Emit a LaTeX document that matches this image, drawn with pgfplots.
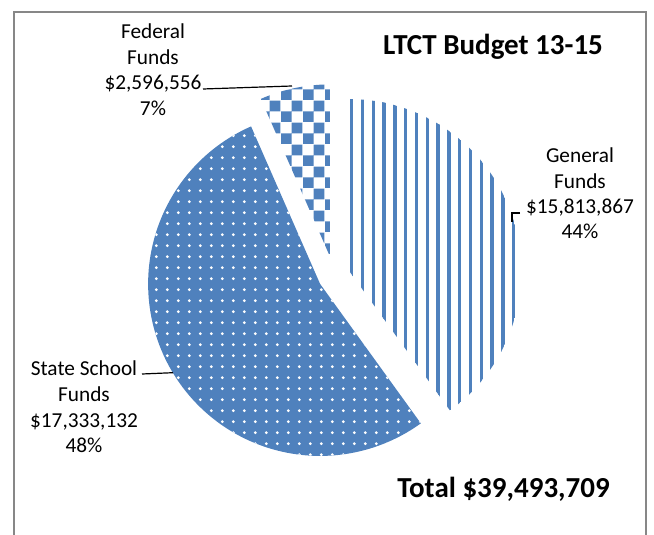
\documentclass[border=0pt]{standalone}
\usepackage{fontspec}
\setmainfont{Carlito}
\usepackage{pgfplots}
\pgfplotsset{compat=1.18}
\usetikzlibrary{patterns}
\definecolor{xlblue}{HTML}{4F81BD}
\definecolor{framegray}{HTML}{878787}

% fill patterns (1 unit = 1 px of the reference)
\pgfdeclarepatternformonly{vstripes}{\pgfqpoint{0bp}{-0.5bp}}{\pgfqpoint{10.8bp}{11.3bp}}{\pgfqpoint{10.8bp}{10.8bp}}{%
  \pgfpathrectangle{\pgfqpoint{4.4bp}{-0.5bp}}{\pgfqpoint{3.3bp}{11.8bp}}\pgfusepath{fill}}
\pgfdeclarepatternformonly{wdots}{\pgfqpoint{0bp}{0bp}}{\pgfqpoint{10.8bp}{10.8bp}}{\pgfqpoint{10.8bp}{10.8bp}}{%
  \pgfpathcircle{\pgfqpoint{5.4bp}{5.4bp}}{1.55bp}\pgfusepath{fill}}
\pgfdeclarepatternformonly{bigchecker}{\pgfqpoint{0bp}{0bp}}{\pgfqpoint{21.6bp}{21.6bp}}{\pgfqpoint{21.6bp}{21.6bp}}{%
  \pgfpathrectangle{\pgfqpoint{0bp}{0bp}}{\pgfqpoint{10.8bp}{10.8bp}}%
  \pgfpathrectangle{\pgfqpoint{10.8bp}{10.8bp}}{\pgfqpoint{10.8bp}{10.8bp}}\pgfusepath{fill}}

\newcommand\lblfont{\fontsize{21.3bp}{25.5bp}\selectfont}
\newcommand\bigfont{\fontsize{29bp}{35bp}\selectfont\bfseries}

\begin{document}
\begin{tikzpicture}
% slice values in millions of dollars, as drawn (clockwise from 12 o'clock)
\pgfmathsetmacro\vGen{15.813867}
\pgfmathsetmacro\vSta{21.083286}
\pgfmathsetmacro\vFed{2.596556}
\pgfmathsetmacro\tot{\vGen+\vSta+\vFed}
\pgfmathsetmacro\aG{360*\vGen/\tot}
\pgfmathsetmacro\aS{360*\vSta/\tot}
\pgfmathsetmacro\aF{360*\vFed/\tot}
% pie centre, radius, explosion
\def\cx{334}\def\cy{259}\def\R{172}
\pgfmathsetmacro\gA{90-\aG}\pgfmathsetmacro\gB{90}
\pgfmathsetmacro\sA{90-\aG-\aS}\pgfmathsetmacro\sB{90-\aG}
\pgfmathsetmacro\fA{90}\pgfmathsetmacro\fB{90+\aF}
\pgfmathsetmacro\gx{\cx+16*cos((\gA+\gB)/2)}\pgfmathsetmacro\gy{\cy+16*sin((\gA+\gB)/2)}
\pgfmathsetmacro\sx{\cx+16*cos((\sA+\sB)/2)}\pgfmathsetmacro\sy{\cy+16*sin((\sA+\sB)/2)}
\pgfmathsetmacro\fx{\cx+20*cos((\fA+\fB)/2)}\pgfmathsetmacro\fy{\cy+20*sin((\fA+\fB)/2)}
\begin{axis}[
    width=654bp, height=535bp, scale only axis,
    xmin=0, xmax=654, ymin=0, ymax=535,
    hide axis, clip=false,
]
% General Funds
\addplot[draw=none, pattern=vstripes, pattern color=xlblue,
    domain=\gA:\gB, samples=90, variable=\t]
    ({\gx+\R*cos(\t)}, {\gy+\R*sin(\t)}) -- (axis cs:\gx,\gy) -- cycle;
% State School Funds
\addplot[draw=none, fill=xlblue, postaction={pattern=wdots, pattern color=white},
    domain=\sA:\sB, samples=120, variable=\t]
    ({\sx+\R*cos(\t)}, {\sy+\R*sin(\t)}) -- (axis cs:\sx,\sy) -- cycle;
% Federal Funds
\addplot[draw=none, pattern=bigchecker, pattern color=xlblue,
    domain=\fA:\fB, samples=30, variable=\t]
    ({\fx+\R*cos(\t)}, {\fy+\R*sin(\t)}) -- (axis cs:\fx,\fy) -- cycle;

% chart area border
\draw[framegray, line width=2bp] (axis cs:13.5,-5) -- (axis cs:13.5,523)
    -- (axis cs:646,523) -- (axis cs:646,-5);

% leader lines
\draw[black, line width=1.2bp] (axis cs:203,446) -- (axis cs:292,449);
\draw[black, line width=1.2bp] (axis cs:520,322) -- (axis cs:512,322) -- (axis cs:512,313);
\draw[black, line width=1.2bp] (axis cs:142,161) -- (axis cs:173,162.3);

% data labels
\node[anchor=base, font=\lblfont] at (axis cs:153,496) {Federal};
\node[anchor=base, font=\lblfont] at (axis cs:153,470.5) {Funds};
\node[anchor=base, font=\lblfont] at (axis cs:153,445) {\$2,596,556};
\node[anchor=base, font=\lblfont] at (axis cs:153,419.5) {7\%};

\node[anchor=base, font=\lblfont] at (axis cs:580,372) {General};
\node[anchor=base, font=\lblfont] at (axis cs:580,346.7) {Funds};
\node[anchor=base, font=\lblfont] at (axis cs:580,321.7) {\$15,813,867};
\node[anchor=base, font=\lblfont] at (axis cs:580,296.7) {44\%};

\node[anchor=base, font=\lblfont] at (axis cs:84,159) {State School};
\node[anchor=base, font=\lblfont] at (axis cs:84,133.3) {Funds};
\node[anchor=base, font=\lblfont] at (axis cs:84,107.7) {\$17,333,132};
\node[anchor=base, font=\lblfont] at (axis cs:84,82) {48\%};

% title and total
\node[anchor=base, font=\bigfont] at (axis cs:493,480.5) {LTCT Budget 13-15};
\node[anchor=base, font=\bigfont] at (axis cs:503.5,37) {Total \$39,493,709};
\end{axis}
\pgfresetboundingbox
\useasboundingbox (0,0) rectangle (654bp,535bp);
\end{tikzpicture}
\end{document}
